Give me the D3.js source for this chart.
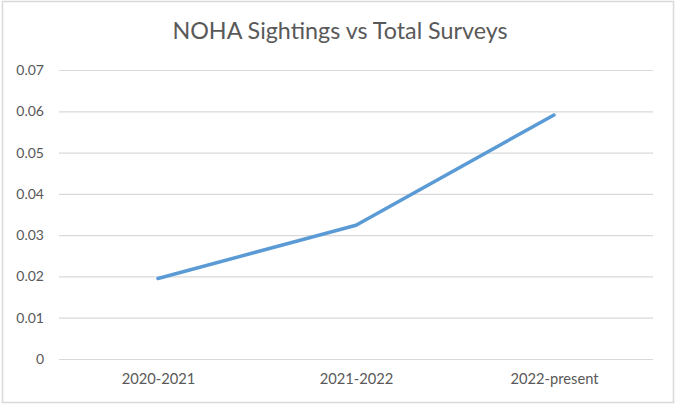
<!DOCTYPE html>
<html><head><meta charset="utf-8">
<script src="https://cdn.jsdelivr.net/npm/d3@7"></script>
<style>body{margin:0;background:#fff;} svg{display:block;}</style>
</head><body>
<svg id="chart" width="681" height="413"></svg>
<script>
const categories = ["2020-2021", "2021-2022", "2022-present"];
const values = [0.0195, 0.0324, 0.0591];
const yTicks = [0, 0.01, 0.02, 0.03, 0.04, 0.05, 0.06, 0.07];
const yTickLabels = ["0", "0.01", "0.02", "0.03", "0.04", "0.05", "0.06", "0.07"];
const title = "NOHA Sightings vs Total Surveys";

const svg = d3.select("#chart");
const W = 681, H = 413;
const m = {left: 59, right: 28, top: 70, bottom: 54};
const font = "Lato, 'Open Sans', sans-serif";

svg.append("rect").attr("x", 2.5).attr("y", 1.5).attr("width", 671).attr("height", 401)
  .attr("fill", "#fff").attr("stroke", "#d9d9d9").attr("stroke-width", 1.5);

const x = d3.scalePoint().domain(categories).range([m.left, W - m.right]).padding(0.5);
const y = d3.scaleLinear().domain([0, 0.07]).range([H - m.bottom, m.top]);

const yAxis = svg.append("g").attr("transform", `translate(${m.left},0)`)
  .call(d3.axisLeft(y).tickValues(yTicks).tickFormat((d, i) => yTickLabels[i])
    .tickSize(-(W - m.right - m.left)).tickPadding(15));
yAxis.select(".domain").remove();
yAxis.selectAll(".tick line").attr("stroke", "#d9d9d9").attr("stroke-width", 1.2);
yAxis.selectAll(".tick text").attr("fill", "#595959").attr("font-family", font).attr("font-size", 14);

const xAxis = svg.append("g").attr("transform", `translate(0,${H - m.bottom})`)
  .call(d3.axisBottom(x).tickSize(0).tickPadding(15));
xAxis.select(".domain").remove();
xAxis.selectAll(".tick text").attr("fill", "#595959").attr("font-family", font).attr("font-size", 14.7);

const line = d3.line().x((d, i) => x(categories[i])).y(d => y(d));
svg.append("path").datum(values).attr("d", line)
  .attr("fill", "none").attr("stroke", "#5b9bd5").attr("stroke-width", 3.5)
  .attr("stroke-linecap", "round").attr("stroke-linejoin", "round");

svg.append("text").attr("x", 340).attr("y", 39).attr("text-anchor", "middle")
  .attr("fill", "#595959").attr("font-family", font).attr("font-size", 23.3)
  .text(title);
</script>
</body></html>
